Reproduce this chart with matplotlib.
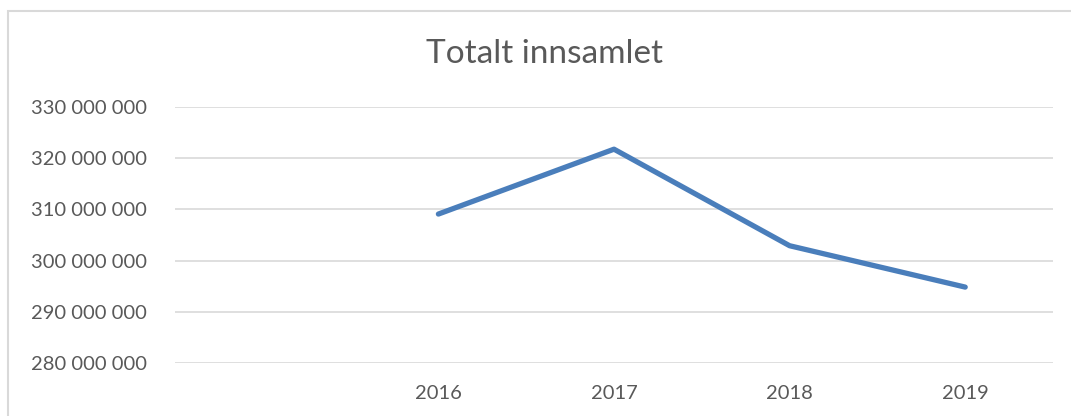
import matplotlib
matplotlib.use("Agg")

import matplotlib.pyplot as plt
from matplotlib.patches import Rectangle

# categories (first slot is empty in the source sheet)
years = ["", "2016", "2017", "2018", "2019"]
totals = [None, 309.1e6, 321.8e6, 302.9e6, 294.8e6]
y_ticks = [280e6, 290e6, 300e6, 310e6, 320e6, 330e6]

text_color = "#595959"
plt.rcParams["font.family"] = ["Lato", "DejaVu Sans"]

fig = plt.figure(figsize=(10.71, 4.16), dpi=100)

# light chart-area border (left and top visible)
fig.patches.append(Rectangle((8 / 1071, -0.1), 1.2, (416 - 11) / 416 + 0.1,
                             transform=fig.transFigure, fill=False,
                             edgecolor="#d9d9d9", linewidth=1.5))

ax = fig.add_axes([175 / 1071, 1 - 362.7 / 416, (1053 - 175) / 1071, (362.7 - 107.3) / 416])

xs = [i for i, v in enumerate(totals) if v is not None]
vals = [v for v in totals if v is not None]
ax.plot(xs, vals, color="#4a7ebb", linewidth=3.8, solid_capstyle="round",
        solid_joinstyle="round", zorder=3)

ax.set_xlim(-0.5, len(years) - 0.5)
ax.set_ylim(280e6, 330e6)
ax.set_xticks(range(len(years)))
ax.set_xticklabels(years)
ax.set_yticks(y_ticks)
ax.set_yticklabels([f"{int(v):,}".replace(",", " ") for v in y_ticks])

ax.grid(axis="y", color="#d9d9d9", linewidth=1.2)
ax.set_axisbelow(True)
for s in ax.spines.values():
    s.set_visible(False)
ax.tick_params(length=0, labelsize=14.5, colors=text_color)
ax.tick_params(axis="y", pad=20)
ax.tick_params(axis="x", pad=16)

fig.text(545 / 1071, 1 - 54 / 416, "Totalt innsamlet", ha="center", va="center",
         fontsize=24, color=text_color)

fig.savefig("out.png", dpi=100, facecolor="white")
